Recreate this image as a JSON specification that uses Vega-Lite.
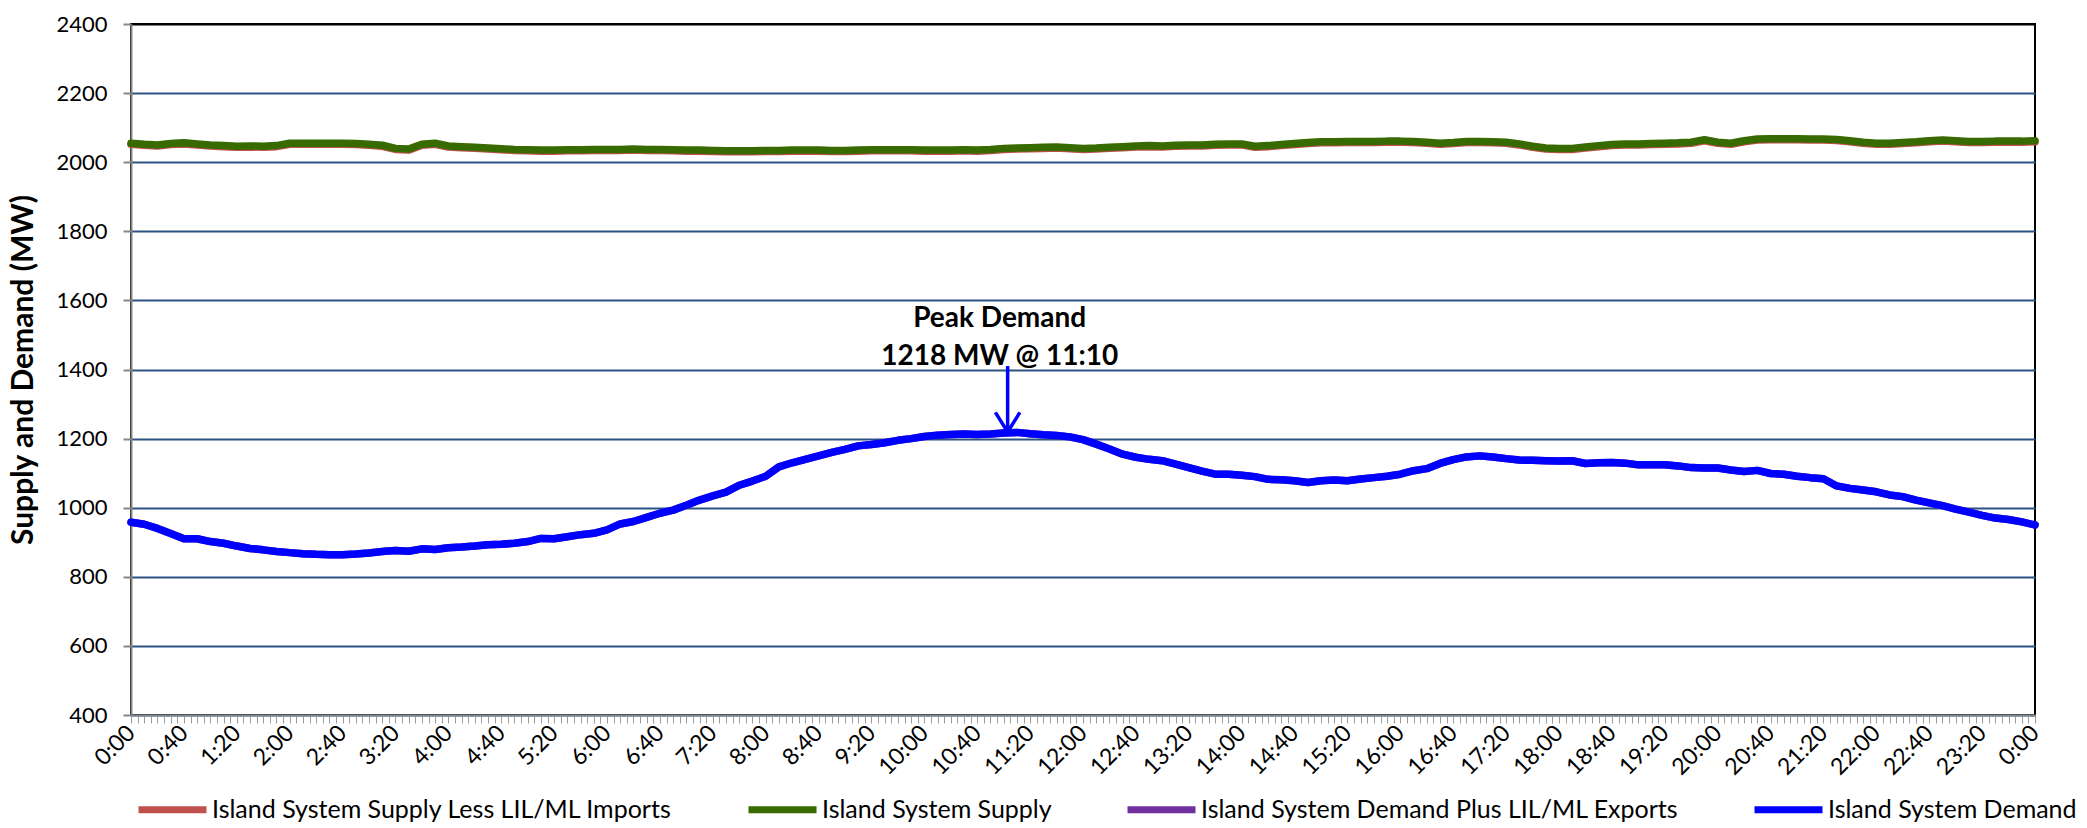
{
"$schema": "https://vega.github.io/schema/vega-lite/v6.json",
"width": 1904, "height": 691,
"autosize": {"type": "none"},
"padding": {"left": 131, "top": 24, "right": 52, "bottom": 113},
"background": "white",
"config": {"font": "Lato", "view": {"stroke": "black", "strokeWidth": 2}},
"datasets": {
"series": [
{"t":0,"s":2055,"sl":2052,"d":958,"dp":958},{"t":10,"s":2052,"sl":2049,"d":952,"dp":952},{"t":20,"s":2050,"sl":2047,"d":940,"dp":940},{"t":30,"s":2054,"sl":2051,"d":925,"dp":925},{"t":40,"s":2056,"sl":2053,"d":910,"dp":910},{"t":50,"s":2053,"sl":2050,"d":910,"dp":910},
{"t":60,"s":2050,"sl":2047,"d":902,"dp":902},{"t":70,"s":2048,"sl":2045,"d":897,"dp":897},{"t":80,"s":2046,"sl":2043,"d":889,"dp":889},{"t":90,"s":2047,"sl":2044,"d":882,"dp":882},{"t":100,"s":2046,"sl":2043,"d":878,"dp":878},{"t":110,"s":2048,"sl":2045,"d":873,"dp":873},
{"t":120,"s":2055,"sl":2052,"d":870,"dp":870},{"t":130,"s":2055,"sl":2052,"d":867,"dp":867},{"t":140,"s":2055,"sl":2052,"d":865,"dp":865},{"t":150,"s":2055,"sl":2052,"d":864,"dp":864},{"t":160,"s":2055,"sl":2052,"d":864,"dp":864},{"t":170,"s":2054,"sl":2051,"d":866,"dp":866},
{"t":180,"s":2052,"sl":2049,"d":869,"dp":869},{"t":190,"s":2049,"sl":2046,"d":873,"dp":873},{"t":200,"s":2040,"sl":2037,"d":876,"dp":876},{"t":210,"s":2038,"sl":2035,"d":874,"dp":874},{"t":220,"s":2052,"sl":2049,"d":881,"dp":881},{"t":230,"s":2055,"sl":2052,"d":879,"dp":879},
{"t":240,"s":2047,"sl":2044,"d":884,"dp":884},{"t":250,"s":2045,"sl":2042,"d":886,"dp":886},{"t":260,"s":2043,"sl":2040,"d":889,"dp":889},{"t":270,"s":2041,"sl":2038,"d":893,"dp":893},{"t":280,"s":2039,"sl":2036,"d":894,"dp":894},{"t":290,"s":2037,"sl":2034,"d":897,"dp":897},
{"t":300,"s":2036,"sl":2033,"d":902,"dp":902},{"t":310,"s":2035,"sl":2032,"d":911,"dp":911},{"t":320,"s":2035,"sl":2032,"d":910,"dp":910},{"t":330,"s":2036,"sl":2033,"d":916,"dp":916},{"t":340,"s":2036,"sl":2033,"d":922,"dp":922},{"t":350,"s":2037,"sl":2034,"d":926,"dp":926},
{"t":360,"s":2037,"sl":2034,"d":936,"dp":936},{"t":370,"s":2037,"sl":2034,"d":953,"dp":953},{"t":380,"s":2038,"sl":2035,"d":960,"dp":960},{"t":390,"s":2037,"sl":2034,"d":972,"dp":972},{"t":400,"s":2037,"sl":2034,"d":984,"dp":984},{"t":410,"s":2036,"sl":2033,"d":993,"dp":993},
{"t":420,"s":2035,"sl":2032,"d":1007,"dp":1007},{"t":430,"s":2035,"sl":2032,"d":1022,"dp":1022},{"t":440,"s":2034,"sl":2031,"d":1034,"dp":1034},{"t":450,"s":2033,"sl":2030,"d":1045,"dp":1045},{"t":460,"s":2033,"sl":2030,"d":1065,"dp":1065},{"t":470,"s":2033,"sl":2030,"d":1077,"dp":1077},
{"t":480,"s":2034,"sl":2031,"d":1091,"dp":1091},{"t":490,"s":2034,"sl":2031,"d":1118,"dp":1118},{"t":500,"s":2035,"sl":2032,"d":1130,"dp":1130},{"t":510,"s":2035,"sl":2032,"d":1140,"dp":1140},{"t":520,"s":2035,"sl":2032,"d":1150,"dp":1150},{"t":530,"s":2034,"sl":2031,"d":1160,"dp":1160},
{"t":540,"s":2034,"sl":2031,"d":1169,"dp":1169},{"t":550,"s":2035,"sl":2032,"d":1179,"dp":1179},{"t":560,"s":2036,"sl":2033,"d":1183,"dp":1183},{"t":570,"s":2036,"sl":2033,"d":1188,"dp":1188},{"t":580,"s":2036,"sl":2033,"d":1195,"dp":1195},{"t":590,"s":2036,"sl":2033,"d":1200,"dp":1200},
{"t":600,"s":2035,"sl":2032,"d":1206,"dp":1206},{"t":610,"s":2035,"sl":2032,"d":1210,"dp":1210},{"t":620,"s":2035,"sl":2032,"d":1212,"dp":1212},{"t":630,"s":2036,"sl":2033,"d":1213,"dp":1213},{"t":640,"s":2035,"sl":2032,"d":1212,"dp":1212},{"t":650,"s":2037,"sl":2034,"d":1213,"dp":1213},
{"t":660,"s":2040,"sl":2037,"d":1216,"dp":1216},{"t":670,"s":2041,"sl":2038,"d":1218,"dp":1218},{"t":680,"s":2042,"sl":2039,"d":1214,"dp":1214},{"t":690,"s":2043,"sl":2040,"d":1211,"dp":1211},{"t":700,"s":2044,"sl":2041,"d":1209,"dp":1209},{"t":710,"s":2042,"sl":2039,"d":1205,"dp":1205},
{"t":720,"s":2040,"sl":2037,"d":1197,"dp":1197},{"t":730,"s":2041,"sl":2038,"d":1184,"dp":1184},{"t":740,"s":2043,"sl":2040,"d":1170,"dp":1170},{"t":750,"s":2045,"sl":2042,"d":1155,"dp":1155},{"t":760,"s":2047,"sl":2044,"d":1146,"dp":1146},{"t":770,"s":2048,"sl":2045,"d":1140,"dp":1140},
{"t":780,"s":2047,"sl":2044,"d":1136,"dp":1136},{"t":790,"s":2049,"sl":2046,"d":1126,"dp":1126},{"t":800,"s":2050,"sl":2047,"d":1116,"dp":1116},{"t":810,"s":2050,"sl":2047,"d":1106,"dp":1106},{"t":820,"s":2052,"sl":2049,"d":1097,"dp":1097},{"t":830,"s":2053,"sl":2050,"d":1097,"dp":1097},
{"t":840,"s":2053,"sl":2050,"d":1094,"dp":1094},{"t":850,"s":2046,"sl":2043,"d":1090,"dp":1090},{"t":860,"s":2048,"sl":2045,"d":1082,"dp":1082},{"t":870,"s":2051,"sl":2048,"d":1081,"dp":1081},{"t":880,"s":2054,"sl":2051,"d":1078,"dp":1078},{"t":890,"s":2057,"sl":2054,"d":1073,"dp":1073},
{"t":900,"s":2059,"sl":2056,"d":1078,"dp":1078},{"t":910,"s":2059,"sl":2056,"d":1080,"dp":1080},{"t":920,"s":2060,"sl":2057,"d":1078,"dp":1078},{"t":930,"s":2060,"sl":2057,"d":1083,"dp":1083},{"t":940,"s":2060,"sl":2057,"d":1087,"dp":1087},{"t":950,"s":2061,"sl":2058,"d":1091,"dp":1091},
{"t":960,"s":2061,"sl":2058,"d":1097,"dp":1097},{"t":970,"s":2060,"sl":2057,"d":1107,"dp":1107},{"t":980,"s":2058,"sl":2055,"d":1113,"dp":1113},{"t":990,"s":2055,"sl":2052,"d":1128,"dp":1128},{"t":1000,"s":2057,"sl":2054,"d":1139,"dp":1139},{"t":1010,"s":2060,"sl":2057,"d":1147,"dp":1147},
{"t":1020,"s":2060,"sl":2057,"d":1150,"dp":1150},{"t":1030,"s":2059,"sl":2056,"d":1147,"dp":1147},{"t":1040,"s":2058,"sl":2055,"d":1142,"dp":1142},{"t":1050,"s":2053,"sl":2050,"d":1138,"dp":1138},{"t":1060,"s":2046,"sl":2043,"d":1137,"dp":1137},{"t":1070,"s":2041,"sl":2038,"d":1136,"dp":1136},
{"t":1080,"s":2040,"sl":2037,"d":1135,"dp":1135},{"t":1090,"s":2040,"sl":2037,"d":1136,"dp":1136},{"t":1100,"s":2044,"sl":2041,"d":1128,"dp":1128},{"t":1110,"s":2048,"sl":2045,"d":1130,"dp":1130},{"t":1120,"s":2051,"sl":2048,"d":1131,"dp":1131},{"t":1130,"s":2053,"sl":2050,"d":1129,"dp":1129},
{"t":1140,"s":2053,"sl":2050,"d":1124,"dp":1124},{"t":1150,"s":2054,"sl":2051,"d":1124,"dp":1124},{"t":1160,"s":2055,"sl":2052,"d":1124,"dp":1124},{"t":1170,"s":2056,"sl":2053,"d":1121,"dp":1121},{"t":1180,"s":2058,"sl":2055,"d":1116,"dp":1116},{"t":1190,"s":2065,"sl":2062,"d":1115,"dp":1115},
{"t":1200,"s":2058,"sl":2055,"d":1115,"dp":1115},{"t":1210,"s":2055,"sl":2052,"d":1109,"dp":1109},{"t":1220,"s":2062,"sl":2059,"d":1105,"dp":1105},{"t":1230,"s":2067,"sl":2064,"d":1108,"dp":1108},{"t":1240,"s":2068,"sl":2065,"d":1099,"dp":1099},{"t":1250,"s":2068,"sl":2065,"d":1097,"dp":1097},
{"t":1260,"s":2068,"sl":2065,"d":1091,"dp":1091},{"t":1270,"s":2067,"sl":2064,"d":1087,"dp":1087},{"t":1280,"s":2067,"sl":2064,"d":1084,"dp":1084},{"t":1290,"s":2066,"sl":2063,"d":1063,"dp":1063},{"t":1300,"s":2062,"sl":2059,"d":1056,"dp":1056},{"t":1310,"s":2058,"sl":2055,"d":1051,"dp":1051},
{"t":1320,"s":2055,"sl":2052,"d":1046,"dp":1046},{"t":1330,"s":2055,"sl":2052,"d":1037,"dp":1037},{"t":1340,"s":2057,"sl":2054,"d":1032,"dp":1032},{"t":1350,"s":2059,"sl":2056,"d":1022,"dp":1022},{"t":1360,"s":2062,"sl":2059,"d":1014,"dp":1014},{"t":1370,"s":2064,"sl":2061,"d":1006,"dp":1006},
{"t":1380,"s":2062,"sl":2059,"d":996,"dp":996},{"t":1390,"s":2060,"sl":2057,"d":987,"dp":987},{"t":1400,"s":2060,"sl":2057,"d":978,"dp":978},{"t":1410,"s":2061,"sl":2058,"d":970,"dp":970},{"t":1420,"s":2061,"sl":2058,"d":966,"dp":966},{"t":1430,"s":2061,"sl":2058,"d":959,"dp":959},
{"t":1440,"s":2062,"sl":2059,"d":950,"dp":950}
],
"notes": [
{"t":657,"y":1546,"label":"Peak Demand"},
{"t":657,"y":1436,"label":"1218 MW @ 11:10"}
],
"arrow": [
{"t":663,"y1":1410,"y2":1222,"tip":1219}
]
},
"layer": [
{
"data": {"name": "series"},
"transform": [{"fold": ["sl","s","dp","d"], "as": ["k","v"]}],
"mark": {"type": "line", "strokeWidth": 7.5, "strokeCap": "round", "strokeJoin": "round"},
"encoding": {
"x": {"field": "t", "type": "quantitative",
 "scale": {"domain": [0,1440], "nice": false, "zero": false},
 "axis": {"title": null, "grid": false, "tickCount": 288, "tickColor": "#9a9a9a", "tickSize": 8, "tickWidth": 1,
  "domainColor": "#868686", "domainWidth": 2, "labelAngle": -45, "labelAlign": "right", "labelBaseline": "middle",
  "labelPadding": 6, "labelFontSize": 23, "labelColor": "black", "labelOverlap": false, "labelFlush": false,
  "labelExpr": "datum.value % 40 == 0 ? floor((datum.value % 1440) / 60) + ':' + (datum.value % 60 < 10 ? '0' : '') + (datum.value % 60) : ''"}},
"y": {"field": "v", "type": "quantitative",
 "scale": {"domain": [400,2400], "nice": false, "zero": false},
 "axis": {"title": "Supply and Demand (MW)", "titleFontSize": 30, "titleFontWeight": "bold", "titleColor": "black", "titlePadding": 17,
  "values": [400,600,800,1000,1200,1400,1600,1800,2000,2200,2400], "format": "d",
  "grid": true, "gridWidth": 2,
  "gridColor": {"condition": {"test": "datum.value >= 2400", "value": "black"}, "value": "#2B5283"},
  "tickColor": "#868686", "tickSize": 8, "tickWidth": 2, "domainColor": "#868686", "domainWidth": 2,
  "labelFontSize": 22, "labelColor": "black", "labelPadding": 16}},
"color": {"field": "k", "type": "nominal",
 "scale": {"domain": ["sl","s","dp","d"], "range": ["#C0504D","#376A00","#7030A0","#0000FF"]},
 "legend": {"title": null, "orient": "none", "legendX": 4, "legendY": 748, "direction": "horizontal",
  "symbolType": "stroke", "symbolSize": 4624, "symbolStrokeWidth": 7, "labelFontSize": 25, "labelColor": "black",
  "labelLimit": 700, "columnPadding": 61, "labelOffset": 2,
  "labelExpr": "datum.label == 'sl' ? 'Island System Supply Less LIL/ML Imports' : datum.label == 's' ? 'Island System Supply' : datum.label == 'dp' ? 'Island System Demand Plus LIL/ML Exports' : 'Island System Demand'"}}
}
},
{
"data": {"name": "arrow"},
"mark": {"type": "rule", "color": "#0000FF", "strokeWidth": 3.5},
"encoding": {
"x": {"field": "t", "type": "quantitative"},
"y": {"field": "y1", "type": "quantitative"},
"y2": {"field": "y2"}
}
},
{
"data": {"name": "arrow"},
"mark": {"type": "point", "shape": "M-1,-1.6L0,0L1,-1.6", "filled": false, "stroke": "#0000FF", "strokeWidth": 3.5, "size": 600, "opacity": 1},
"encoding": {
"x": {"field": "t", "type": "quantitative"},
"y": {"field": "tip", "type": "quantitative"}
}
},
{
"data": {"name": "notes"},
"mark": {"type": "text", "fontSize": 28, "fontWeight": "bold", "color": "black", "align": "center", "baseline": "middle"},
"encoding": {
"x": {"field": "t", "type": "quantitative"},
"y": {"field": "y", "type": "quantitative"},
"text": {"field": "label"}
}
}
]
}
